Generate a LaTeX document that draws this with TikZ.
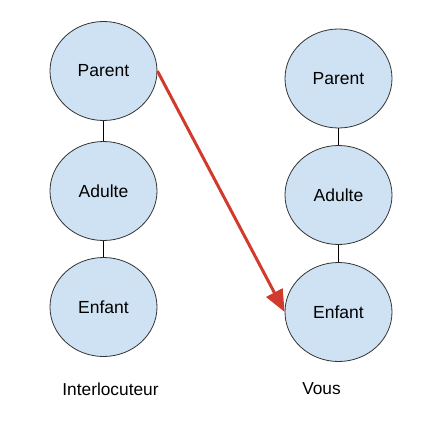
\documentclass[tikz,border=0pt]{standalone}
\usepackage{fontspec}
\setmainfont{Liberation Sans}
\usetikzlibrary{shapes.geometric,arrows.meta}
\definecolor{nodefill}{HTML}{CFE2F3}
\definecolor{nodeline}{HTML}{333333}
\definecolor{arrowred}{HTML}{D23A2E}
\tikzset{
  state/.style={ellipse,draw=nodeline,line width=0.8pt,fill=nodefill,minimum width=107pt,minimum height=99pt,inner sep=0pt,font=\fontsize{17.5}{20}\selectfont},
  link/.style={draw=black,line width=0.8pt},
  caption/.style={font=\fontsize{17.3}{20}\selectfont,inner sep=0pt},
  jump/.style={draw=arrowred,line width=3pt,-{Triangle[length=22pt,width=18pt]}}
}
\begin{document}
\begin{tikzpicture}[x=1pt,y=-1pt]
\useasboundingbox (0,0) rectangle (429,438);
\node[state] (lp) at (103.5,71) {Parent};
\node[state] (la) at (103.5,191) {Adulte};
\node[state] (le) at (103.5,307) {Enfant};
\node[state] (rp) at (338.5,78.5) {Parent};
\node[state] (ra) at (338.5,195) {Adulte};
\node[state] (re) at (338.5,312) {Enfant};
\draw[link] (lp.south) -- (la.north);
\draw[link] (la.south) -- (le.north);
\draw[link] (rp.south) -- (ra.north);
\draw[link] (ra.south) -- (re.north);
\draw[jump] (lp.east) -- (re.west);
\node[caption] (li) at (110.5,389) {Interlocuteur};
\node[caption] (lv) at (321.5,389) {Vous};
\end{tikzpicture}
\end{document}
